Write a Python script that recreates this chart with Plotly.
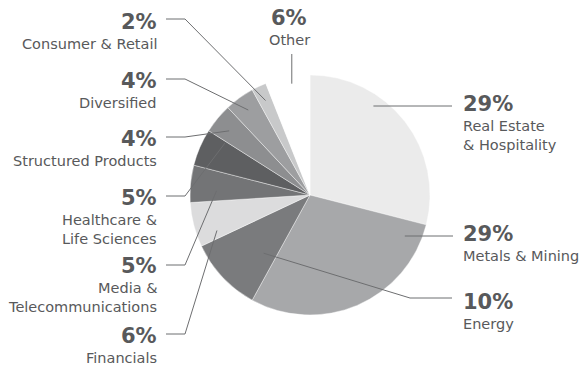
import math
import plotly.graph_objects as go

# Sector breakdown (percent of portfolio), clockwise from 12 o'clock
sectors = [["Real Estate", "& Hospitality"], ["Metals & Mining"], ["Energy"], ["Financials"],
           ["Media &", "Telecommunications"], ["Healthcare &", "Life Sciences"],
           ["Structured Products"], ["Diversified"], ["Consumer & Retail"], ["Other"]]
shares = [29, 29, 10, 6, 5, 5, 4, 4, 2, 6]
fills = ["#ebebeb", "#a7a8aa", "#7a7b7d", "#dcdcdd", "#737476", "#5e5f61",
         "#8d8e90", "#9d9ea0", "#c8c9ca", "#ffffff"]

W, H = 587, 368
CX, CY, R = 310, 195, 120          # pie centre / radius in pixels
TEXT = "#58595b"
LINE = "#6d6e70"
FONT = "DejaVu Sans, Verdana, sans-serif"
NAME_GAP, NAME_STEP = 22, 19       # first name line offset / line spacing (px)

# Leader-line layout per slice: anchor inside the slice (fraction of its sweep,
# fraction of radius), elbow and end of the line in pixels, label position
# (x, centre of the percentage) and alignment.
leaders = [
    dict(f=0.34, r=0.91, elbow=None, end=(452, 106), lab=(461, 104), align="left"),
    dict(f=0.085, r=0.86, elbow=None, end=(453, 236), lab=(461, 234), align="left"),
    dict(f=0.27, r=0.62, elbow=(410, 298), end=(452, 298), lab=(461, 302), align="left"),
    dict(f=0.20, r=0.83, elbow=(185, 334), end=(166, 334), lab=(159, 336), align="right"),
    dict(f=0.34, r=0.78, elbow=(185, 265), end=(166, 265), lab=(159, 266), align="right"),
    dict(f=0.95, r=0.83, elbow=(185, 196), end=(166, 196), lab=(159, 198), align="right"),
    dict(f=0.42, r=0.86, elbow=(185, 137), end=(166, 137), lab=(159, 139), align="right"),
    dict(f=0.50, r=0.875, elbow=(185, 79), end=(166, 79), lab=(159, 81), align="right"),
    dict(f=0.50, r=0.87, elbow=(185, 19), end=(166, 19), lab=(159, 22), align="right"),
    dict(f=0.57, r=0.94, elbow=None, end=None, lab=(289, 18), align="center"),
]


def px(x, y):
    return x / W, 1 - y / H


fig = go.Figure(go.Pie(
    labels=[" ".join(s) for s in sectors],
    values=shares,
    sort=False,
    direction="clockwise",
    rotation=0,
    marker=dict(colors=fills, line=dict(color="#ffffff", width=0.4)),
    textinfo="none",
    hoverinfo="label+percent",
    showlegend=False,
    domain=dict(x=[(CX - R) / W, (CX + R) / W], y=[1 - (CY + R) / H, 1 - (CY - R) / H]),
))

shapes, annotations = [], []
total = sum(shares)
start = 0.0
for name_lines, val, ld in zip(sectors, shares, leaders):
    sweep = 360.0 * val / total
    ang = math.radians(start + ld["f"] * sweep)
    start += sweep
    ax = CX + ld["r"] * R * math.sin(ang)
    ay = CY - ld["r"] * R * math.cos(ang)

    if ld["end"] is None:
        # vertical tick above the slice
        pts = [(ax, ay), (ax, 54)]
    else:
        pts = [(ax, ay)] + ([ld["elbow"]] if ld["elbow"] else []) + [ld["end"]]
        if ld["elbow"] is None:
            pts[0] = (ax, ld["end"][1])
    for (x0, y0), (x1, y1) in zip(pts[:-1], pts[1:]):
        a, b = px(x0, y0)
        c, d = px(x1, y1)
        shapes.append(dict(type="line", xref="paper", yref="paper", x0=a, y0=b, x1=c, y1=d,
                           line=dict(color=LINE, width=1)))

    lx, ly = ld["lab"]
    xa = ld["align"]
    x, y = px(lx, ly)
    annotations.append(dict(xref="paper", yref="paper", x=x, y=y, xanchor=xa, yanchor="middle",
                            text=f"<b>{val}%</b>", showarrow=False,
                            font=dict(family=FONT, size=21, color=TEXT)))
    for i, line in enumerate(name_lines):
        x2, y2 = px(lx, ly + NAME_GAP + NAME_STEP * i)
        annotations.append(dict(xref="paper", yref="paper", x=x2, y=y2, xanchor=xa,
                                yanchor="middle", text=line, showarrow=False,
                                font=dict(family=FONT, size=14.5, color=TEXT)))

fig.update_layout(
    width=W, height=H,
    margin=dict(l=0, r=0, t=0, b=0),
    paper_bgcolor="#ffffff",
    plot_bgcolor="#ffffff",
    shapes=shapes,
    annotations=annotations,
)

fig.write_html("out.html")
